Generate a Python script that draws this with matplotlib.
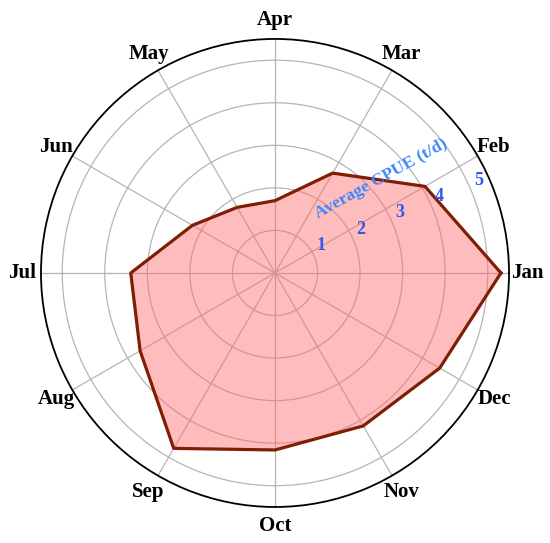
import numpy as np
import matplotlib
matplotlib.use('Agg')
import matplotlib.pyplot as plt

# 월별 평균 CPUE (t/d)
months = ['Jan', 'Feb', 'Mar', 'Apr', 'May', 'Jun',
          'Jul', 'Aug', 'Sep', 'Oct', 'Nov', 'Dec']
cpue = [5.31, 4.07, 2.71, 1.70, 1.78, 2.24,
        3.39, 3.66, 4.76, 4.16, 4.15, 4.47]
r_ticks = [1, 2, 3, 4, 5]
r_tick_labels = ['1', '2', '3', '4', '5']

plt.rcParams['font.family'] = ['Liberation Serif', 'DejaVu Serif']

fig = plt.figure(figsize=(5.5, 5.43), dpi=100)
ax = fig.add_axes([0.0745, 0.0663, 0.851, 0.862], projection='polar')

angles = np.deg2rad(np.arange(len(months)) * 30)
theta = np.append(angles, angles[0])
vals = np.append(cpue, cpue[0])

ax.fill(theta, vals, color='#ff6b6b', alpha=0.45, lw=0, zorder=2)
ax.plot(theta, vals, color='#7f1d05', lw=2.3, zorder=3)

ax.set_ylim(0, 5.5)
ax.set_yticks(r_ticks)
ax.set_yticklabels([])
ax.set_xticks(angles)
ax.set_xticklabels(months, fontsize=15, fontweight='bold')
ax.tick_params(axis='x', pad=3)
ax.grid(color='#b5b5b5', lw=0.9)
ax.set_axisbelow(True)
ax.spines['polar'].set_color('black')
ax.spines['polar'].set_linewidth(1.3)

# 반지름 눈금 라벨 (22.5도 방향)
rl = np.deg2rad(22.5)
for r, lab in zip(r_ticks, r_tick_labels):
    ax.text(rl, r + 0.17, lab, color='#3355ee', fontsize=13, fontweight='bold',
            ha='center', va='bottom', zorder=5)

ax.text(np.deg2rad(41.6), 3.33, 'Average CPUE (t/d)', color='#3a86ff',
        fontsize=12.5, fontweight='bold', rotation=29,
        ha='center', va='center', rotation_mode='anchor', zorder=5)

fig.savefig('out.png', dpi=100)
plt.close(fig)
